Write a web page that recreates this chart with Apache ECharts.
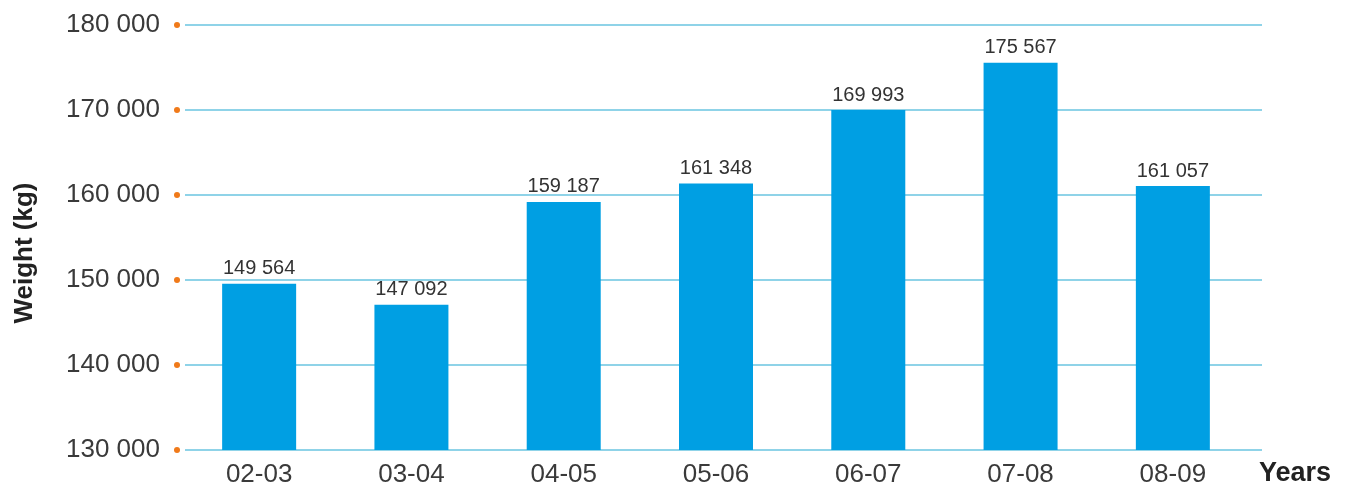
<!DOCTYPE html>
<html>
<head>
<meta charset="utf-8">
<script src="https://cdn.jsdelivr.net/npm/echarts@6/dist/echarts.min.js"></script>
<style>
  html, body { margin: 0; padding: 0; background: #fff; }
  #chart { width: 1346px; height: 492px; }
</style>
</head>
<body>
<div id="chart"></div>
<script>
// Annual weight totals per season
const years = ['02-03', '03-04', '04-05', '05-06', '06-07', '07-08', '08-09'];
const weights = [149564, 147092, 159187, 161348, 169993, 175567, 161057];
const yMin = 130000;
const yMax = 180000;
const yStep = 10000;

const FONT = 'Liberation Sans, Arial, sans-serif';
const fmt = v => String(v).replace(/\B(?=(\d{3})+(?!\d))/g, ' ');

const chart = echarts.init(document.getElementById('chart'), null, { renderer: 'canvas' });

chart.setOption({
  animation: false,
  backgroundColor: '#ffffff',
  grid: [
    // grid 0 carries the value axis labels and the horizontal rules
    { left: 185, top: 25, width: 1077, height: 425, outerBoundsMode: 'none', containLabel: false },
    // grid 1 carries the bars and the year labels
    { left: 183, top: 25, width: 1066, height: 425, outerBoundsMode: 'none', containLabel: false }
  ],
  xAxis: [
    { gridIndex: 0, type: 'value', min: 0, max: 1, show: false },
    {
      gridIndex: 1, type: 'category', data: years,
      axisLine: { show: false }, axisTick: { show: false },
      axisLabel: { color: '#3a3a3a', fontSize: 26, fontFamily: FONT, margin: 12 }
    }
  ],
  yAxis: [
    {
      gridIndex: 0, type: 'value', min: yMin, max: yMax, interval: yStep,
      axisLine: { show: false }, axisTick: { show: false },
      splitLine: { lineStyle: { color: '#8fd3e8', width: 2 } },
      axisLabel: {
        margin: 5,
        formatter: v => '{v|' + fmt(v) + '}{d|}',
        rich: {
          v: { color: '#3a3a3a', fontSize: 26, fontFamily: FONT, padding: [0, 14, 0, 0] },
          d: { backgroundColor: '#f07a1a', width: 6, height: 6, borderRadius: 3 }
        }
      }
    },
    {
      gridIndex: 1, type: 'value', min: yMin, max: yMax, interval: yStep,
      show: false, splitLine: { show: false }
    }
  ],
  series: [{
    type: 'bar',
    xAxisIndex: 1, yAxisIndex: 1,
    data: weights,
    barWidth: 74,
    itemStyle: { color: '#009fe3' },
    label: {
      show: true, position: 'top', distance: 5,
      color: '#333', fontSize: 20, fontFamily: FONT,
      formatter: p => fmt(p.value)
    }
  }],
  graphic: [
    {
      type: 'text', x: 25, y: 253, rotation: Math.PI / 2,
      style: {
        text: 'Weight (kg)', fill: '#222', fontSize: 26, fontWeight: 'bold', fontFamily: FONT,
        align: 'center', verticalAlign: 'middle'
      }
    },
    {
      type: 'text', left: 1259, top: 460,
      style: { text: 'Years', fill: '#222', fontSize: 27, fontWeight: 'bold', fontFamily: FONT }
    }
  ]
});
</script>
</body>
</html>
